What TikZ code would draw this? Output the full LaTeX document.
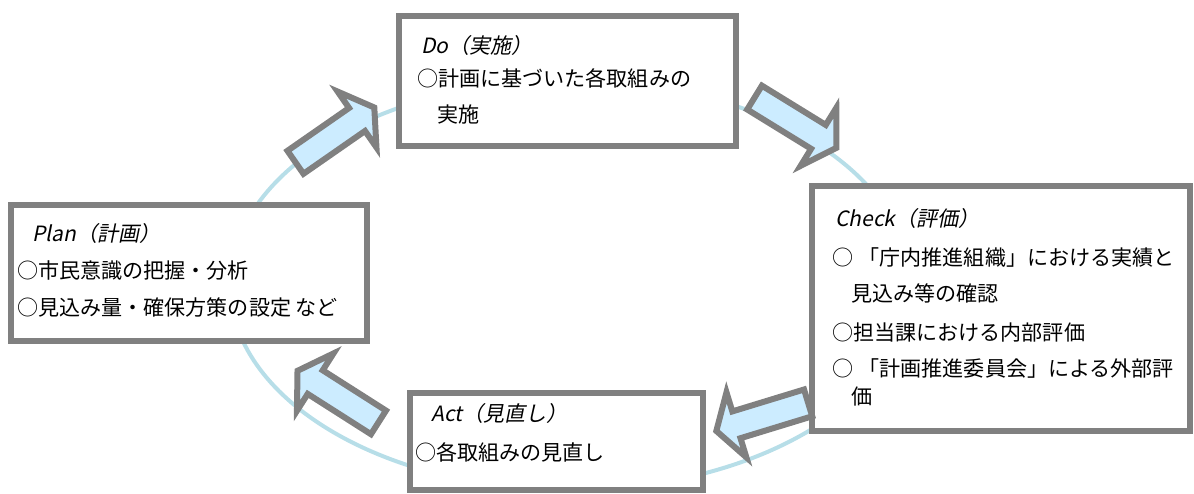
\documentclass[tikz,border=0pt]{standalone}
\usepackage{fontspec}
\newfontfamily\jp{Noto Sans CJK JP}
\newfontfamily\jpit{Noto Sans CJK JP}[FakeSlant=0.2]
\definecolor{boxgray}{HTML}{808080}
\definecolor{arrowblue}{HTML}{CCECFF}
\definecolor{cyclecol}{HTML}{B7DEE8}
\tikzset{
  blk/.style={draw=boxgray, fill=arrowblue, line width=4.5pt, line join=miter},
  blockarrow/.pic={\draw[blk] (3,-14) -- (78,-14) -- (78,-34) -- (99,0) -- (78,34) -- (78,14) -- (3,14) -- cycle;}
}
\begin{document}
\begin{tikzpicture}[x=0.75pt,y=-0.75pt,
  box/.style={draw=boxgray, line width=4.5pt, fill=white, rectangle, inner sep=0pt},
  txt/.style={anchor=west, inner sep=0pt, font=\jp\fontsize{15.8}{18}\selectfont},
  head/.style={txt, font=\jpit\fontsize{15.8}{18}\selectfont},
  cyc/.style={draw=cyclecol, line width=3pt}]
\useasboundingbox (0,0) rectangle (1194,493);
% cycle ellipse
\draw[cyc] (570,285) ellipse [x radius=340, y radius=205];
% boxes
\node[box, minimum width=252.75pt, minimum height=97.5pt] (do) at (567.5,81) {};
\node[box, minimum width=283.5pt, minimum height=183.75pt] (check) at (1001,308.5) {};
\node[box, minimum width=267pt, minimum height=102pt] (plan) at (189,273) {};
\node[box, minimum width=219.75pt, minimum height=72.75pt] (act) at (556.5,441.5) {};
% arrows
\pic[rotate=34.8] at (293,164) {blockarrow};
\pic[rotate=-31.6] at (752,96) {blockarrow};
\pic[rotate=197] at (811,402) {blockarrow};
\pic[rotate=147.5] at (381,424) {blockarrow};
% Do texts
\node[head] (dot) at (421,45) {Do（実施）};
\node[txt] (do1) at (417,78) {○計画に基づいた各取組みの};
\node[txt] (do2) at (437,115) {実施};
% Check texts
\node[head] (cht) at (835,218) {Check（評価）};
\node[txt] (ch1) at (832,257) {○\hspace{0.25em}「庁内推進組織」における実績と};
\node[txt] (ch2) at (851,293) {見込み等の確認};
\node[txt] (ch3) at (832,333) {○担当課における内部評価};
\node[txt] (ch4) at (832,368) {○\hspace{0.25em}「計画推進委員会」による外部評};
\node[txt] (ch5) at (851,397) {価};
% Plan texts
\node[head] (plt) at (32,233) {Plan（計画）};
\node[txt] (pl1) at (17,270) {○市民意識の把握・分析};
\node[txt] (pl2) at (17,307) {○見込み量・確保方策の設定 など};
% Act texts
\node[head] (act t) at (431,413) {Act（見直し）};
\node[txt] (ac1) at (415,452) {○各取組みの見直し};
\end{tikzpicture}
\end{document}
